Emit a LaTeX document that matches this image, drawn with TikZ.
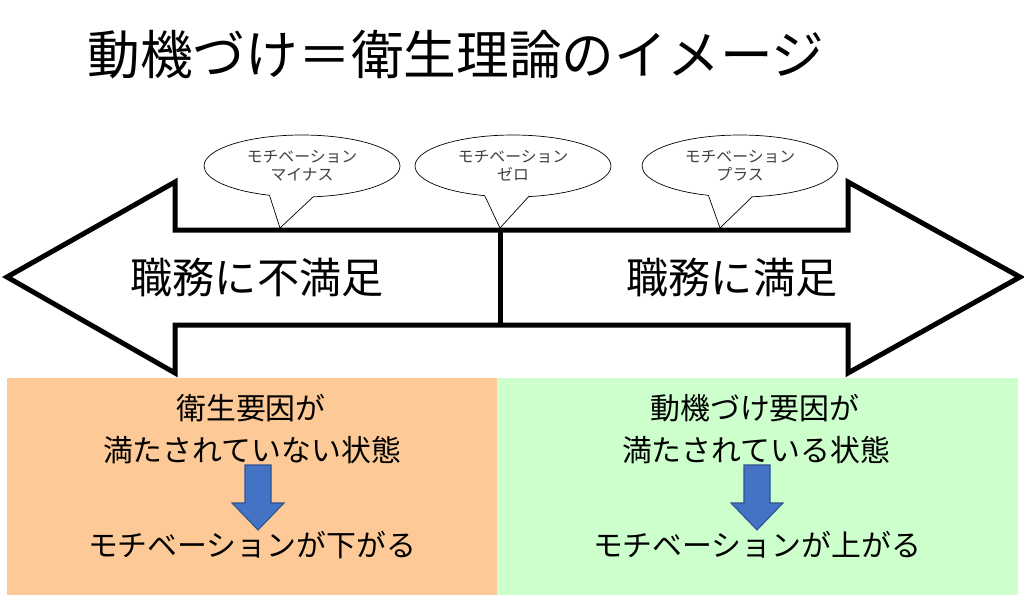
\documentclass[tikz,border=0pt]{standalone}
\usepackage{fontspec}
\setmainfont{Noto Sans CJK JP}
\usetikzlibrary{shapes.callouts}
\definecolor{peach}{HTML}{FDC996}
\definecolor{mint}{HTML}{CCFFCC}
\definecolor{dropblue}{HTML}{4472C4}
\definecolor{dropedge}{HTML}{2F528F}

\begin{document}
\begin{tikzpicture}[x=0.02cm,y=-0.02cm,
    bubble/.style={ellipse callout,draw,fill=white,minimum width=3.92cm,minimum height=1.24cm,
      callout pointer arc=26,align=center,inner sep=0pt,text=black!75,
      font=\fontsize{9}{10.4}\selectfont},
    bigtext/.style={font=\fontsize{24}{28}\selectfont},
    boxtext/.style={font=\fontsize{17}{20}\selectfont},
    drop/.style={fill=dropblue,draw=dropedge,line width=0.6pt}]
    \useasboundingbox (0,0) rectangle (1024,595);
    \fill[peach] (7,378) rectangle (497,595);
    \fill[mint] (497,378) rectangle (1018,595);
    \node[font=\fontsize{30}{36}\selectfont] (title) at (456,55) {動機づけ＝衛生理論のイメージ};
    \draw[line width=0.1cm] (7,277) -- (175,182) -- (175,230) -- (848,230) -- (848,182)
      -- (1020,277) -- (848,373) -- (848,325) -- (175,325) -- (175,373) -- cycle;
    \draw[line width=0.1cm] (500,230) -- (500,325);
    \node[bigtext] (unsat) at (257,277) {職務に不満足};
    \node[bigtext] (sat) at (732,277) {職務に満足};
    \coordinate (minus) at (280,228);
    \coordinate (zero) at (500,228);
    \coordinate (plus) at (720,228);
    \node[bubble,callout absolute pointer={(minus)}] (bminus) at (302,166) {モチベーション\\マイナス};
    \node[bubble,callout absolute pointer={(zero)}] (bzero) at (513,166) {モチベーション\\ゼロ};
    \node[bubble,callout absolute pointer={(plus)}] (bplus) at (740,166) {モチベーション\\プラス};
    \node[boxtext] (hygiene) at (251,408) {衛生要因が};
    \node[boxtext] (lack) at (252,450) {満たされていない状態};
    \node[boxtext] (down) at (252,545) {モチベーションが下がる};
    \node[boxtext] (motive) at (755,408) {動機づけ要因が};
    \node[boxtext] (met) at (756,450) {満たされている状態};
    \node[boxtext] (up) at (757,545) {モチベーションが上がる};
    \foreach \cx in {258,757}
      \draw[drop] (\cx-13,465) -- (\cx+13,465) -- (\cx+13,503) -- (\cx+26,503)
        -- (\cx,530) -- (\cx-26,503) -- (\cx-13,503) -- cycle;
  \end{tikzpicture}
\end{document}
